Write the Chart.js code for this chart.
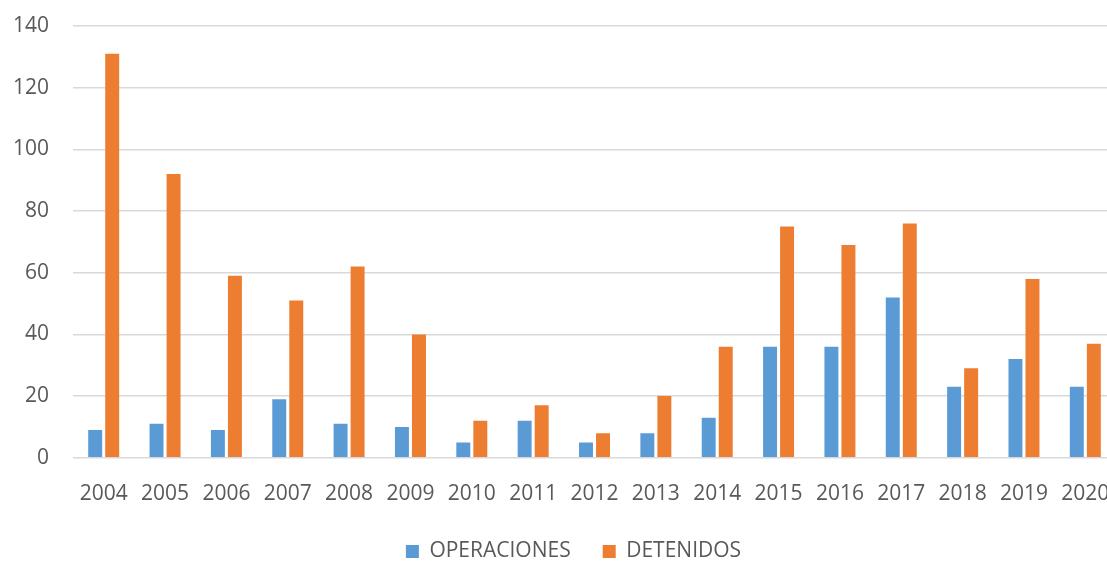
<!DOCTYPE html>
<html>
<head>
<meta charset="utf-8">
<script src="https://cdn.jsdelivr.net/npm/chart.js@4/dist/chart.umd.min.js"></script>
<style>
  html, body { margin: 0; padding: 0; background: #fff; overflow: hidden; }
  #wrap { position: relative; width: 1148px; height: 572px; }
</style>
</head>
<body>
<div id="wrap"><canvas id="myChart" width="1148" height="572"></canvas></div>
<script>
const years = ["2004", "2005", "2006", "2007", "2008", "2009", "2010", "2011", "2012",
    "2013", "2014", "2015", "2016", "2017", "2018", "2019", "2020"];
const operaciones = [9, 11, 9, 19, 11, 10, 5, 12, 5, 8, 13, 36, 36, 52, 23, 32, 23];
const detenidos = [131, 92, 59, 51, 62, 40, 12, 17, 8, 20, 36, 75, 69, 76, 29, 58, 37];

const ctx = document.getElementById("myChart");

// nudge legend a bit right, the original is centred on a wider frame
const legendShift = {
    id: "legendShift",
    afterUpdate(chart) {
        chart.legend.left += 10;
        chart.legend.right += 10;
    }
};

new Chart(ctx, {
    type: "bar",
    data: {
        labels: years,
        datasets: [
            {
                label: "OPERACIONES",
                data: operaciones,
                backgroundColor: "#5b9bd5",
                barPercentage: 0.82,
                categoryPercentage: 0.555
            },
            {
                label: "DETENIDOS",
                data: detenidos,
                backgroundColor: "#ed7d31",
                barPercentage: 0.82,
                categoryPercentage: 0.555
            }
        ]
    },
    options: {
        responsive: false,
        animation: false,
        layout: {
            padding: { left: 11, right: 32, top: 26, bottom: 0 }
        },
        plugins: {
            legend: {
                position: "bottom",
                labels: {
                    boxWidth: 13,
                    boxHeight: 13,
                    padding: 32,
                    color: "#595959",
                    font: { family: "Open Sans", size: 21 }
                }
            },
            tooltip: { enabled: false }
        },
        scales: {
            x: {
                grid: { display: false, drawTicks: true, tickLength: 22, tickColor: "transparent" },
                border: { display: false },
                ticks: {
                    color: "#595959",
                    padding: 2,
                    maxRotation: 0,
                    font: { family: "Open Sans", size: 21 }
                }
            },
            y: {
                min: 0,
                max: 140,
                ticks: {
                    stepSize: 20,
                    padding: 2,
                    color: "#595959",
                    font: { family: "Open Sans", size: 21 }
                },
                grid: { color: "#d9d9d9", lineWidth: 1.5, drawTicks: true, tickLength: 22, tickColor: "transparent" },
                border: { display: false }
            }
        }
    },
    plugins: [legendShift]
});
</script>
</body>
</html>
